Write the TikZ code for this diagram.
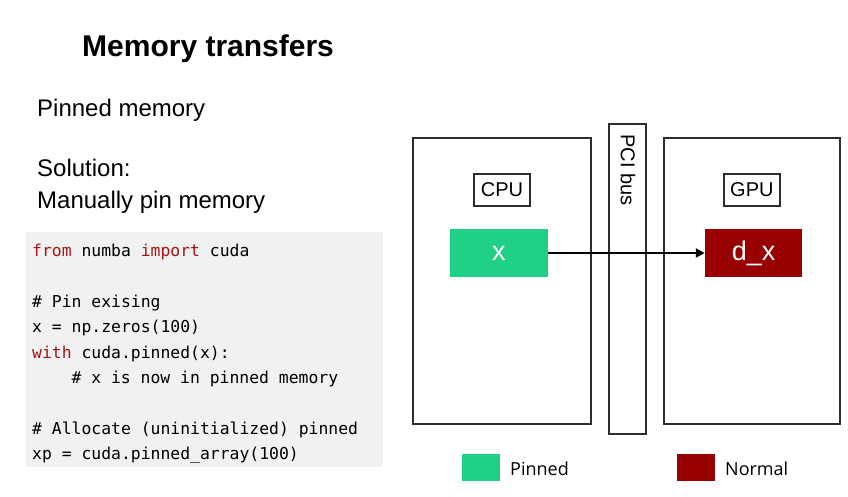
\documentclass[tikz,border=0pt]{standalone}
\usepackage{fontspec}
\setmainfont{Liberation Sans}
\setmonofont{DejaVu Sans Mono}
\newfontfamily\legendfont{Open Sans}
\usetikzlibrary{arrows.meta}
\definecolor{pinc}{RGB}{32,208,134}
\definecolor{normc}{RGB}{153,0,0}
\definecolor{kw}{RGB}{163,21,21}
\definecolor{codebg}{RGB}{241,241,241}
\definecolor{framec}{RGB}{45,45,45}
\begin{document}
\begin{tikzpicture}[x=1pt,y=-1pt,
  txt/.style={inner sep=0pt,anchor=base west},
  body/.style={txt,font=\fontsize{24}{28}\selectfont},
  code/.style={txt,font=\ttfamily\fontsize{16.4}{20}\selectfont},
  frame/.style={draw=framec,line width=1.9pt,inner sep=0pt},
  lbl/.style={frame,font=\fontsize{20}{24}\selectfont},
  mem/.style={inner sep=0pt,text=white,font=\fontsize{27}{30}\selectfont,minimum width=97.5pt,minimum height=48pt},
  legtxt/.style={txt,font=\legendfont\fontsize{18}{22}\selectfont}
]
\useasboundingbox[fill=white] (0,0) rectangle (848,496);

% left text
\node[txt,font=\bfseries\fontsize{30}{34}\selectfont] (title) at (82,56.5) {Memory transfers};
\node[body] (pinned) at (37,116) {Pinned memory};
\node[body] (sol) at (37,176.5) {Solution:};
\node[body] (manual) at (37,208) {Manually pin memory};

% code block
\fill[codebg] (26,232) rectangle (383,467);
\node[code] (c0) at (32,256.5) {\textcolor{kw}{from} numba \textcolor{kw}{import} cuda};
\node[code] (c2) at (32,307.3) {\# Pin exising};
\node[code] (c3) at (32,332.7) {x = np.zeros(100)};
\node[code] (c4) at (32,358.1) {\textcolor{kw}{with} cuda.pinned(x):};
\node[code] (c5) at (71.4,383.5) {\# x is now in pinned memory};
\node[code] (c7) at (32,434.3) {\# Allocate (uninitialized) pinned};
\node[code] (c8) at (32,459.7) {xp = cuda.pinned\_array(100)};

% diagram
\node[frame,minimum width=177.4pt,minimum height=286pt] (cpu) at (502,280.7) {};
\node[frame,minimum width=37pt,minimum height=309.7pt] (pci) at (627.2,279.2) {};
\node[frame,minimum width=176.3pt,minimum height=286pt] (gpu) at (751.9,280.7) {};
\node[inner sep=0pt,rotate=-90,font=\fontsize{20}{24}\selectfont] (pcilabel) at (628,170) {PCI bus};
\node[lbl,minimum width=56pt,minimum height=32pt] (cpulabel) at (502,190) {CPU};
\node[lbl,minimum width=56.3pt,minimum height=32pt] (gpulabel) at (751.9,190) {GPU};
\node[mem,fill=pinc] (x) at (498.9,253) {x};
\node[mem,fill=normc] (dx) at (753.7,253) {d\_x};
\draw[line width=2.6pt,-{Triangle[length=9pt,width=9pt]}] (x.east) -- (dx.west);

% legend
\node[fill=pinc,minimum width=38pt,minimum height=27pt,inner sep=0pt] (legp) at (481,467.5) {};
\node[legtxt] (legptxt) at (510,475) {Pinned};
\node[fill=normc,minimum width=38pt,minimum height=27pt,inner sep=0pt] (legn) at (696,467.5) {};
\node[legtxt] (legntxt) at (725,475) {Normal};
\end{tikzpicture}
\end{document}
